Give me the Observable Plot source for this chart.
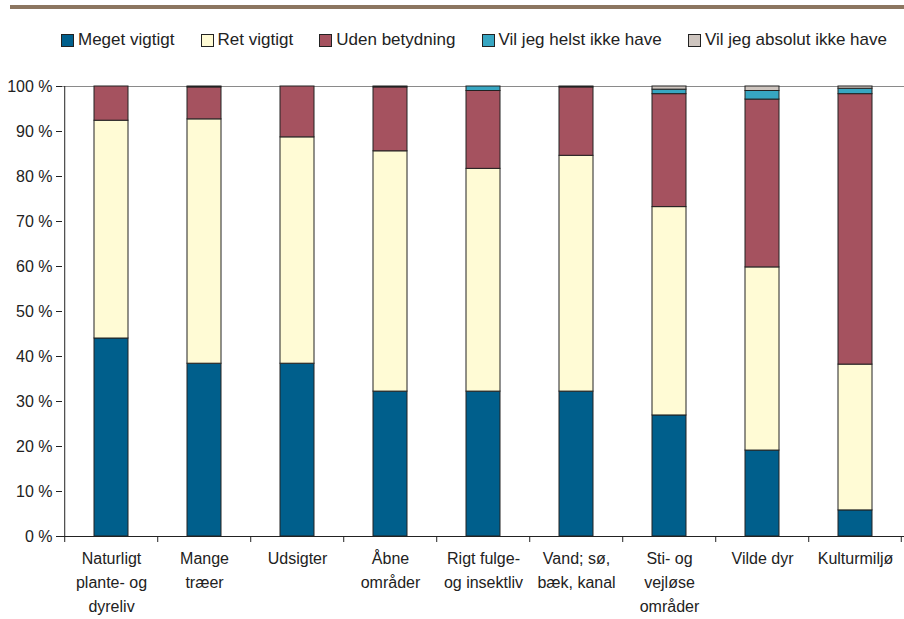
<!DOCTYPE html>
<html><head><meta charset="utf-8">
<script src="https://cdn.jsdelivr.net/npm/d3@7"></script>
<script src="https://cdn.jsdelivr.net/npm/@observablehq/plot@0.6"></script>
<style>
body{margin:0;background:#fff;font-family:"Liberation Sans",Arial,sans-serif;}
#wrap{position:relative;width:904px;height:619px;overflow:hidden}
#rule{position:absolute;left:10px;right:0;top:5px;height:4px;background:#8C7660}
#legend{position:absolute;left:61px;width:826px;top:31px;display:flex;justify-content:space-between;font-size:17px;color:#222;line-height:18px}
.item{display:flex;align-items:center;gap:4px}
.sw{width:11px;height:11px;border:1px solid #222}
#chart{position:absolute;left:0;top:60px}
</style></head><body>
<div id="wrap"><div id="rule"></div><div id="legend"></div><div id="chart"></div></div>
<script>
const categories = ["Naturligt\nplante- og\ndyreliv", "Mange\ntræer", "Udsigter", "Åbne\nområder", "Rigt fulge-\nog insektliv", "Vand; sø,\nbæk, kanal", "Sti- og\nvejløse\nområder", "Vilde dyr", "Kulturmiljø"];
const seriesNames = ["Meget vigtigt", "Ret vigtigt", "Uden betydning", "Vil jeg helst ikke have", "Vil jeg absolut ikke have"];
const seriesColors = ["#005F8C", "#FFFBD5", "#A5525F", "#37A6C2", "#CEC5BF"];
const meget  = [44.0, 38.4, 38.4, 32.2, 32.2, 32.2, 26.9, 19.1, 5.8];
const ret    = [48.4, 54.3, 50.3, 53.4, 49.5, 52.4, 46.3, 40.7, 32.4];
const uden   = [7.6, 7.1, 11.3, 14.2, 17.3, 15.2, 25.1, 37.3, 60.1];
const helst  = [0, 0.2, 0, 0.2, 1.0, 0.2, 1.0, 1.9, 1.2];
const absolut= [0, 0, 0, 0, 0, 0, 0.7, 1.0, 0.5];
const yTicks = [0, 10, 20, 30, 40, 50, 60, 70, 80, 90, 100];

const seriesValues = [meget, ret, uden, helst, absolut];
const data = [];
seriesNames.forEach((s, i) => categories.forEach((c, j) => data.push({cat: c, series: s, value: seriesValues[i][j]})));

// legend
const leg = document.getElementById("legend");
seriesNames.forEach((s, i) => {
  const it = document.createElement("div"); it.className = "item";
  const sw = document.createElement("div"); sw.className = "sw"; sw.style.background = seriesColors[i];
  const t = document.createElement("span"); t.textContent = s;
  it.appendChild(sw); it.appendChild(t); leg.appendChild(it);
});

const W = 904, ML = 62, MR = 0;
const step = (W - ML - MR) / categories.length;
const ink = "#222";

const chart = Plot.plot({
  width: W, height: 559,
  marginLeft: ML, marginRight: MR, marginTop: 26, marginBottom: 83,
  style: {fontFamily: '"Liberation Sans", Arial, sans-serif', color: ink, background: "transparent"},
  x: {domain: categories, paddingInner: 0.636, paddingOuter: 0.318, axis: null, label: null},
  y: {domain: [0, 100], axis: null, label: null},
  color: {domain: seriesNames, range: seriesColors},
  marks: [
    Plot.ruleY([100], {stroke: "#8a8a8a", strokeWidth: 1}),
    Plot.barY(data, {x: "cat", y: "value", fill: "series", stroke: ink, strokeWidth: 1}),
    Plot.ruleY([0], {stroke: ink, strokeWidth: 1}),
    Plot.ruleX([categories[0]], {x: d => d, dx: -step / 2, y1: 0, y2: 100, stroke: ink}),
    Plot.ruleX(categories, {x: d => d, dx: -step / 2, y1: 0, y2: 0, insetBottom: -6, stroke: ink}),
    Plot.ruleX([categories[categories.length - 1]], {x: d => d, dx: step / 2 - 1, y1: 0, y2: 0, insetBottom: -6, stroke: ink}),
    Plot.axisY({ticks: yTicks, tickFormat: d => d + " %", tickSize: 6, tickPadding: 4, fontSize: 16, stroke: ink, label: null}),
    Plot.axisX({tickSize: 0, tickPadding: 10, fontSize: 16, lineHeight: 1.5, fill: ink, label: null})
  ]
});
document.getElementById("chart").appendChild(chart);
</script>
</body></html>
